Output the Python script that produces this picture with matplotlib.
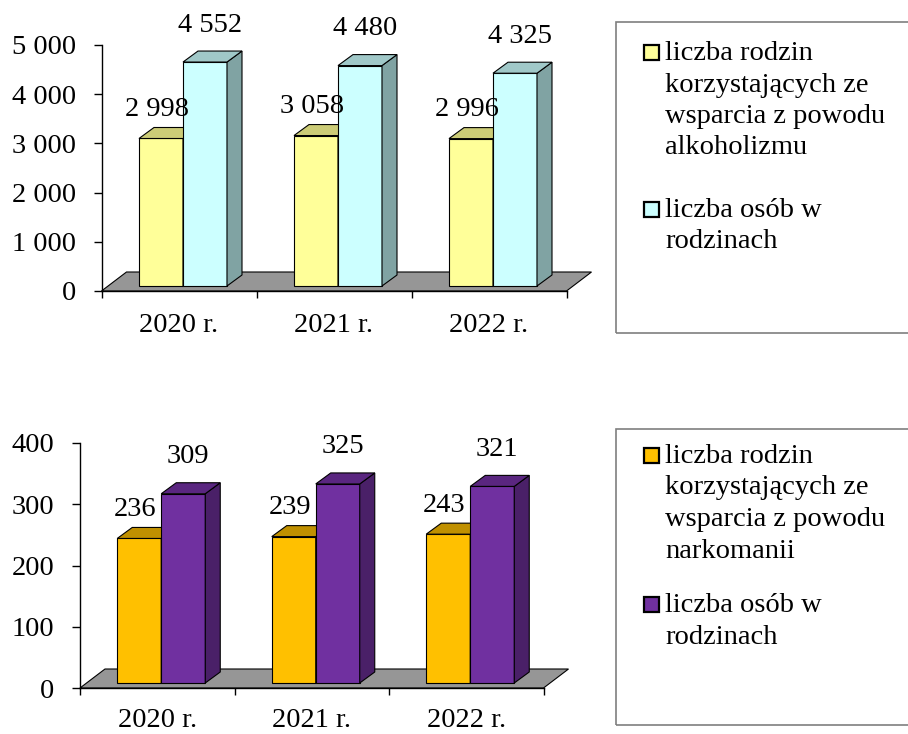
import matplotlib
matplotlib.use("Agg")
import matplotlib.pyplot as plt
from matplotlib.patches import Polygon, Rectangle


plt.rcParams["font.family"] = ["Liberation Serif", "DejaVu Serif"]

# ===== Data =====
years = ["2020 r.", "2021 r.", "2022 r."]

alk_rodziny = [2998, 3058, 2996]
alk_osoby = [4552, 4480, 4325]
alk_ticks = [0, 1000, 2000, 3000, 4000, 5000]
alk_names = [
    "liczba rodzin\nkorzystających ze\nwsparcia z powodu\nalkoholizmu",
    "liczba osób w\nrodzinach",
]

nark_rodziny = [236, 239, 243]
nark_osoby = [309, 325, 321]
nark_ticks = [0, 100, 200, 300, 400]
nark_names = [
    "liczba rodzin\nkorzystających ze\nwsparcia z powodu\nnarkomanii",
    "liczba osób w\nrodzinach",
]

# ===== Style =====
W, H = 908, 734
FS = 20.5
FLOOR = (25, 19)   # floor depth, px
DEPTH = (15, 11)   # bar depth, px
SHIFT = (4, 5)     # bar offset from front edge, px
BAR_W = 44         # px
LINE_H = 31.5      # legend line step, px


def fmt(v):
    return f"{v:,.0f}".replace(",", " ")


def fx(px):
    return px / W


def fy(py):
    return 1 - py / H


def chart(fig, box, ticks, series, colors, xpad):
    left, right, top, bottom = box
    ax = fig.add_axes([fx(left), fy(bottom), (right - left) / W, (bottom - top) / H])
    ax.patch.set_alpha(0)
    n = len(years)
    ax.set_xlim(0, n)
    ax.set_ylim(0, ticks[-1])
    sx = n / (right - left)
    sy = ticks[-1] / (bottom - top)

    # floor
    fdx, fdy = FLOOR[0] * sx, FLOOR[1] * sy
    ax.add_patch(Polygon([(0, 0), (n, 0), (n + fdx, fdy), (fdx, fdy)],
                         closed=True, fc="#969696", ec="black", lw=0.8, clip_on=False))

    bw = BAR_W * sx
    dx, dy = DEPTH[0] * sx, DEPTH[1] * sy
    ox, oy = SHIFT[0] * sx, SHIFT[1] * sy
    lab_off = [(-4, 29), (5, 37)]
    for i in range(n):
        for j, vals in enumerate(series):
            v = vals[i]
            front, side, topc = colors[j]
            x0 = i + 0.5 - bw + j * bw + ox
            y0, y1 = oy, oy + v
            ax.add_patch(Rectangle((x0, y0), bw, v, fc=front, ec="black", lw=0.8, clip_on=False))
            ax.add_patch(Polygon([(x0 + bw, y0), (x0 + bw + dx, y0 + dy),
                                  (x0 + bw + dx, y1 + dy), (x0 + bw, y1)],
                                 closed=True, fc=side, ec="black", lw=0.8, clip_on=False))
            ax.add_patch(Polygon([(x0, y1), (x0 + bw, y1),
                                  (x0 + bw + dx, y1 + dy), (x0 + dx, y1 + dy)],
                                 closed=True, fc=topc, ec="black", lw=0.8, clip_on=False))
            ax.annotate(fmt(v), xy=(x0 + bw / 2, y1), xytext=lab_off[j],
                        textcoords="offset pixels", ha="center", va="center",
                        fontsize=FS, annotation_clip=False)

    for s in ["top", "right"]:
        ax.spines[s].set_visible(False)
    ax.spines["left"].set_linewidth(1)
    ax.spines["bottom"].set_linewidth(1)
    ax.set_yticks(ticks)
    ax.set_yticklabels([fmt(t) for t in ticks], fontsize=FS)
    ax.tick_params(axis="y", direction="out", length=5.5, width=1, pad=13)
    ax.set_xticks(range(n + 1))
    ax.set_xticklabels([])
    ax.tick_params(axis="x", which="major", direction="out", length=5, width=1)
    ax.set_xticks([i + 0.5 for i in range(n)], minor=True)
    ax.set_xticklabels(years, minor=True, fontsize=FS)
    ax.tick_params(axis="x", which="minor", length=0, pad=xpad)
    return ax


def legend(fig, box, names, fills, baselines):
    x0, top, bot = box
    fig.patches.append(Rectangle((fx(x0), fy(bot)), fx(W + 10 - x0), (bot - top) / H,
                                 transform=fig.transFigure, fill=False,
                                 ec="#7f7f7f", lw=1.2))
    for name, fc, base in zip(names, fills, baselines):
        fig.patches.append(Rectangle((fx(644), fy(base)), 15 / W, 15 / H,
                                     transform=fig.transFigure, fc=fc,
                                     ec="black", lw=1.6))
        for k, line in enumerate(name.split("\n")):
            fig.text(fx(665), fy(base + k * LINE_H), line, fontsize=FS,
                     va="baseline", ha="left")


fig = plt.figure(figsize=(W / 100, H / 100), dpi=100)

alk_colors = [("#FFFF99", "#999966", "#CCCC77"), ("#CCFFFF", "#80A3A3", "#A0C8C8")]
chart(fig, (101.5, 566.5, 45, 291), alk_ticks, [alk_rodziny, alk_osoby], alk_colors, 16)
legend(fig, (616, 22, 333), alk_names, ["#FFFF99", "#CCFFFF"], [60, 217])

nark_colors = [("#FFC000", "#997300", "#C09000"), ("#7030A0", "#4A2068", "#5A2680")]
chart(fig, (80, 543.5, 443, 688), nark_ticks, [nark_rodziny, nark_osoby], nark_colors, 14.5)
legend(fig, (616, 429, 725), nark_names, ["#FFC000", "#7030A0"], [463, 612])

plt.savefig("out.png", dpi=100)
plt.close()
